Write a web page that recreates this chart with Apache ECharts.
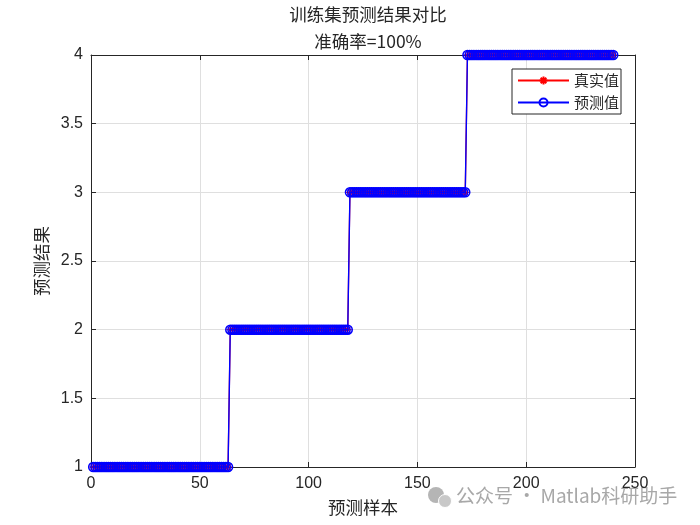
<!DOCTYPE html>
<html>
<head>
<meta charset="utf-8">
<script src="https://cdn.jsdelivr.net/npm/echarts@6/dist/echarts.min.js"></script>
<style>html,body{margin:0;padding:0;background:#fff}#c{width:700px;height:525px}</style>
</head>
<body>
<div id="c"></div>
<script>
var titleLine1 = '训练集预测结果对比';
var titleLine2 = '准确率=100%';
var xName = '预测样本';
var yName = '预测结果';
var seriesNames = ['真实值', '预测值'];
var xTicks = [0, 50, 100, 150, 200, 250];
var yTicks = [1, 1.5, 2, 2.5, 3, 3.5, 4];

var trueLabels = [
1,1,1,1,1,1,1,1,1,1,
1,1,1,1,1,1,1,1,1,1,
1,1,1,1,1,1,1,1,1,1,
1,1,1,1,1,1,1,1,1,1,
1,1,1,1,1,1,1,1,1,1,
1,1,1,1,1,1,1,1,1,1,
1,1,1,
2,2,2,2,2,2,2,2,2,2,
2,2,2,2,2,2,2,2,2,2,
2,2,2,2,2,2,2,2,2,2,
2,2,2,2,2,2,2,2,2,2,
2,2,2,2,2,2,2,2,2,2,
2,2,2,2,2,
3,3,3,3,3,3,3,3,3,3,
3,3,3,3,3,3,3,3,3,3,
3,3,3,3,3,3,3,3,3,3,
3,3,3,3,3,3,3,3,3,3,
3,3,3,3,3,3,3,3,3,3,
3,3,3,3,
4,4,4,4,4,4,4,4,4,4,
4,4,4,4,4,4,4,4,4,4,
4,4,4,4,4,4,4,4,4,4,
4,4,4,4,4,4,4,4,4,4,
4,4,4,4,4,4,4,4,4,4,
4,4,4,4,4,4,4,4,4,4,
4,4,4,4,4,4,4,4
];
var predLabels = [
1,1,1,1,1,1,1,1,1,1,
1,1,1,1,1,1,1,1,1,1,
1,1,1,1,1,1,1,1,1,1,
1,1,1,1,1,1,1,1,1,1,
1,1,1,1,1,1,1,1,1,1,
1,1,1,1,1,1,1,1,1,1,
1,1,1,
2,2,2,2,2,2,2,2,2,2,
2,2,2,2,2,2,2,2,2,2,
2,2,2,2,2,2,2,2,2,2,
2,2,2,2,2,2,2,2,2,2,
2,2,2,2,2,2,2,2,2,2,
2,2,2,2,2,
3,3,3,3,3,3,3,3,3,3,
3,3,3,3,3,3,3,3,3,3,
3,3,3,3,3,3,3,3,3,3,
3,3,3,3,3,3,3,3,3,3,
3,3,3,3,3,3,3,3,3,3,
3,3,3,3,
4,4,4,4,4,4,4,4,4,4,
4,4,4,4,4,4,4,4,4,4,
4,4,4,4,4,4,4,4,4,4,
4,4,4,4,4,4,4,4,4,4,
4,4,4,4,4,4,4,4,4,4,
4,4,4,4,4,4,4,4,4,4,
4,4,4,4,4,4,4,4
];

var TXT = '#262626';
var LAT = '"Liberation Sans", Arial, Helvetica, sans-serif';
var CJK = '"Noto Sans CJK SC", "Noto Sans", sans-serif';
var asterisk = 'path://M0,-10L0,10M-10,0L10,0M-7.07,-7.07L7.07,7.07M-7.07,7.07L7.07,-7.07';

function pairs(arr) { return arr.map(function (v, i) { return [i + 1, v]; }); }

var chart = echarts.init(document.getElementById('c'), null, { renderer: 'canvas' });

function baseAxis(extra) {
  return Object.assign({
    axisLine: { show: true, onZero: false, lineStyle: { color: TXT, width: 1 } },
    axisTick: { show: true, inside: true, length: 5, lineStyle: { color: TXT } },
    splitLine: { show: false },
    axisLabel: { show: false }
  }, extra);
}

chart.setOption({
  animation: false,
  backgroundColor: '#fff',
  title: [
    { text: titleLine1, left: 363, textAlign: 'center', top: 1,
      textStyle: { fontFamily: CJK, fontSize: 17.5, fontWeight: 'normal', color: TXT } },
    { text: titleLine2, left: 363, textAlign: 'center', top: 28,
      textStyle: { fontFamily: CJK, fontSize: 17.5, fontWeight: 'normal', color: TXT } }
  ],
  grid: { left: 91, top: 55, width: 544, height: 412, containLabel: false },
  legend: {
    left: 512, top: 69, orient: 'vertical',
    backgroundColor: '#fff', borderColor: TXT, borderWidth: 1, borderRadius: 0,
    padding: [4, 2, 4, 5], itemGap: 7, itemWidth: 51, itemHeight: 10,
    textStyle: { fontFamily: CJK, fontSize: 15, color: TXT },
    data: seriesNames
  },
  xAxis: [
    baseAxis({
      type: 'value', min: xTicks[0], max: xTicks[xTicks.length - 1], interval: 50,
      position: 'bottom',
      name: xName, nameLocation: 'middle', nameGap: 32,
      nameTextStyle: { fontFamily: CJK, fontSize: 17.5, color: TXT },
      axisLabel: { show: true, margin: 9, fontFamily: LAT, fontSize: 16, color: TXT },
      splitLine: { show: true, lineStyle: { color: '#dfdfdf', width: 1 } }
    }),
    baseAxis({ type: 'value', min: 0, max: 250, interval: 50, position: 'top' })
  ],
  yAxis: [
    baseAxis({
      type: 'value', min: yTicks[0], max: yTicks[yTicks.length - 1], interval: 0.5,
      position: 'left',
      name: yName, nameLocation: 'middle', nameGap: 37, nameRotate: 90,
      nameTextStyle: { fontFamily: CJK, fontSize: 17.5, color: TXT },
      axisLabel: { show: true, margin: 8, fontFamily: LAT, fontSize: 16, color: TXT },
      splitLine: { show: true, lineStyle: { color: '#dfdfdf', width: 1 } }
    }),
    baseAxis({ type: 'value', min: 1, max: 4, interval: 0.5, position: 'right' })
  ],
  series: [
    {
      name: seriesNames[0], type: 'line', xAxisIndex: 0, yAxisIndex: 0,
      data: pairs(trueLabels),
      symbol: asterisk, symbolSize: 8, showAllSymbol: true,
      lineStyle: { color: '#ff0000', width: 1.3 },
      itemStyle: { color: 'rgba(0,0,0,0)', borderColor: '#ff0000', borderWidth: 1 },
      z: 2
    },
    {
      name: seriesNames[1], type: 'line', xAxisIndex: 0, yAxisIndex: 0,
      data: pairs(predLabels),
      symbol: 'circle', symbolSize: 9, showAllSymbol: true,
      lineStyle: { color: '#0000ff', width: 1.4 },
      itemStyle: { color: 'rgba(0,0,0,0)', borderColor: '#0000ff', borderWidth: 1.5 },
      z: 3
    }
  ],
  graphic: [
    { type: 'circle', left: 428, top: 487, shape: { r: 8 }, style: { fill: '#b5b5b5' } },
    { type: 'circle', left: 438, top: 494, shape: { r: 6.5 }, style: { fill: '#c8c8c8', stroke: '#fff', lineWidth: 1 } },
    { type: 'text', left: 456, top: 486,
      style: { text: '公众号 · Matlab科研助手', fill: '#a8a8a8', font: '19px ' + CJK } }
  ]
});
</script>
</body>
</html>
